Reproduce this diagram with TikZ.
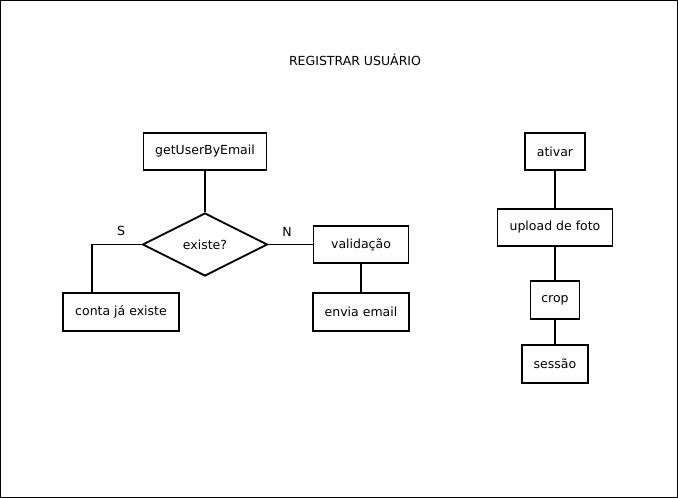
\documentclass[tikz,border=0pt]{standalone}
\usepackage{fontspec}
\setmainfont{DejaVu Sans}
\usetikzlibrary{shapes.geometric}
\begin{document}
\begin{tikzpicture}[x=1pt,y=-1pt,
  box/.style={draw,line width=1.8pt,inner sep=0pt,font=\fontsize{12.5}{14}\selectfont},
  dec/.style={draw,diamond,line width=1.8pt,inner sep=0pt,font=\fontsize{12.5}{14}\selectfont},
  lbl/.style={font=\fontsize{12.5}{14}\selectfont,inner sep=0pt},
  conn/.style={line width=1.8pt}]
\useasboundingbox (0,0) rectangle (678,498);
\draw[line width=1.4pt] (0.7,0.7) rectangle (677.3,497.3);
\node[lbl] (title) at (355,60) {REGISTRAR USUÁRIO};
\node[box,minimum width=123pt,minimum height=37pt] (get) at (205,151.5) {getUserByEmail};
\node[dec,minimum width=125pt,minimum height=63pt] (ex) at (205,244.5) {existe?};
\node[box,minimum width=116pt,minimum height=38pt] (conta) at (121,312) {conta já existe};
\node[box,minimum width=95pt,minimum height=37pt] (val) at (361,244.5) {validação};
\node[box,minimum width=96pt,minimum height=38pt] (env) at (361,312) {envia email};
\node[lbl] (s) at (121,231) {S};
\node[lbl] (n) at (287,232) {N};
\coordinate (corner) at (92,244.5);
\draw[conn] (get) -- (ex.north);
\draw[conn] (ex.west) -- (corner) -- (conta.north -| corner);
\draw[conn] (ex.east) -- (val.west);
\draw[conn] (val.south -| env.north) -- (env.north);
\node[box,minimum width=60pt,minimum height=37pt] (at) at (555,151.5) {ativar};
\node[box,minimum width=115pt,minimum height=37pt] (up) at (555,227.5) {upload de foto};
\node[box,minimum width=49pt,minimum height=38pt] (crop) at (555,300) {crop};
\node[box,minimum width=66pt,minimum height=38pt] (ses) at (555,364) {sessão};
\draw[conn] (at.south) -- (at.south |- up.north);
\draw[conn] (up.south -| crop.north) -- (crop.north);
\draw[conn] (crop.south) -- (crop.south |- ses.north);
\end{tikzpicture}
\end{document}
